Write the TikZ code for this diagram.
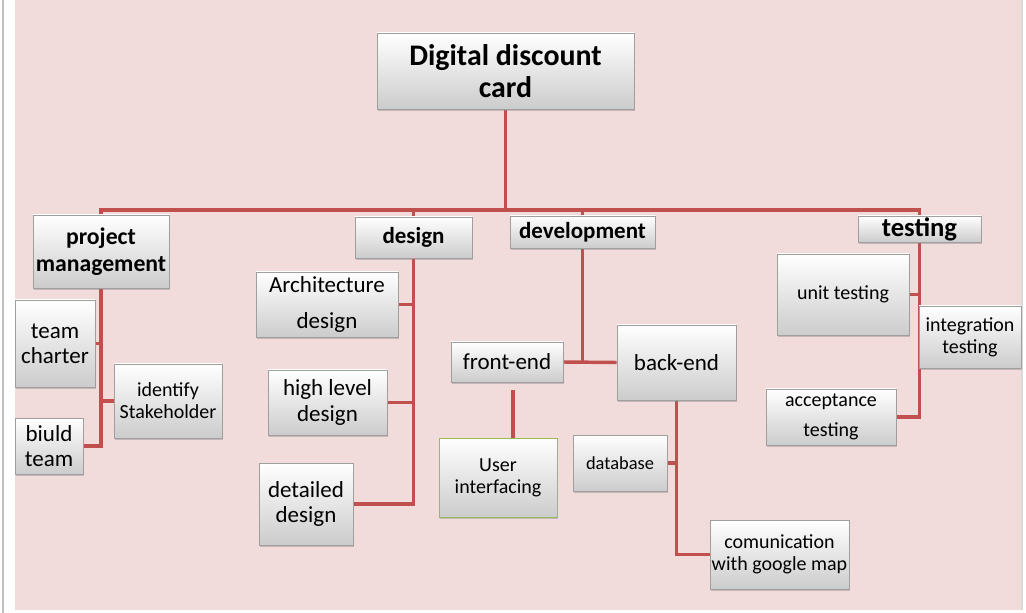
\documentclass[tikz,border=0pt]{standalone}
\usepackage{fontspec}
\setmainfont{Carlito}
\usetikzlibrary{positioning}
\usetikzlibrary{shadows}
\usetikzlibrary{backgrounds}
\definecolor{wbspink}{RGB}{242,220,219}
\definecolor{wbsline}{RGB}{192,80,77}
\definecolor{wbsgreen}{RGB}{155,187,89}
\tikzset{
  box/.style={draw=gray!75, line width=0.5pt, top color=white, bottom color=gray!40,
    align=center, inner sep=1pt,
    drop shadow={shadow xshift=1pt, shadow yshift=-1.5pt, opacity=0.4}},
  sz/.style 2 args={minimum width=#1*0.75pt, minimum height=#2*0.75pt},
  head/.style={box, font=\bfseries\fontsize{17.25}{21}\selectfont},
  big/.style={font=\fontsize{17.25}{19}\selectfont},
  small/.style={font=\fontsize{15}{16.5}\selectfont},
  link/.style={draw=wbsline, line width=2.6pt},
}
\begin{document}
\begin{tikzpicture}[line cap=rect, line join=miter, x=0.75pt, y=-0.75pt]
\useasboundingbox (0,0) rectangle (1026,613);
% top level
\node[box, sz={257}{76}, font=\bfseries\fontsize{22.4}{24.5}\selectfont] (card) at (505.5,71) {Digital discount\\card};
\node[head, sz={136}{73}, font=\bfseries\fontsize{17.8}{20.5}\selectfont] (pm) at (101,251.5) {project\\management};
\node[head, sz={117}{41}] (des) at (413.5,237.5) {design};
\node[head, sz={145}{32}] (dev) at (582.5,232) {development};
\node[head, sz={123}{26}, font=\bfseries\fontsize{20}{20}\selectfont] (test) at (919.5,229) {testing};
% project management
\node[box, big, sz={80}{87}] (tc) at (55,343.5) {team\\charter};
\node[box, small, sz={108}{74}] (is) at (168,401) {identify\\Stakeholder};
\node[box, big, sz={68}{56}] (bt) at (49,446) {biuld\\team};
% design
\node[box, big, sz={142}{65}] (arch) at (327,304.5) {Architecture\\[8pt]design};
\node[box, big, sz={119}{65}] (hl) at (327.5,402.5) {high level\\design};
\node[box, big, sz={94}{82}] (dd) at (306,504) {detailed\\design};
% development
\node[box, big, sz={112}{40}] (fe) at (507,362) {front-end};
\node[box, big, sz={119}{75}] (be) at (676.5,362.5) {back-end};
\node[box, small, sz={118}{79}, draw=wbsgreen] (ui) at (498,477.5) {User\\interfacing};
\node[box, small, sz={94}{56}, font=\fontsize{13.8}{16}\selectfont] (db) at (620,463) {database};
\node[box, small, sz={139}{69}] (gm) at (779.5,554.5) {comunication\\with google map};
% testing
\node[box, small, sz={132}{81}] (ut) at (843,294.5) {unit testing};
\node[box, small, sz={102}{62}] (it) at (970,337) {integration\\testing};
\node[box, small, sz={130}{56}] (acc) at (831,417) {acceptance\\[6pt]testing};
\begin{scope}[on background layer]
\fill[white] (0,0) rectangle (1026,613);
\fill[wbspink] (15,0) rectangle (1021,610);
\draw[gray!50, line width=0.8pt] (3,0) -- (3,613);
\draw[gray!30, line width=0.8pt] (1022,0) -- (1022,610);
\coordinate (bus) at (505.5,210);
\draw[link] (card.south) -- (bus);
\draw[link] (pm.north) -- (pm.north |- bus) -- (test.north |- bus) -- (test.north);
\draw[link] (des.north) -- (des.north |- bus);
\draw[link] (dev.north) -- (dev.north |- bus);
\draw[link] (pm.south) -- (pm.south |- bt.east) -- (bt.east);
\draw[link] (tc.east) -- (tc.east -| pm.south);
\draw[link] (is.west) -- (is.west -| pm.south);
\draw[link] (des.south) -- (des.south |- dd.east) -- (dd.east);
\draw[link] (arch.east) -- (arch.east -| des.south);
\draw[link] (hl.east) -- (hl.east -| des.south);
\draw[link] (dev.south) -- (dev.south |- fe.east);
\draw[link] (fe.east) -- (be.west);
\draw[link] ([xshift=11.25pt]ui.north) -- ++(0,-48);
\draw[link] (be.south) -- (be.south |- gm.west) -- (gm.west);
\draw[link] (db.east) -- (db.east -| be.south);
\draw[link] (test.south) -- (test.south |- acc.east) -- (acc.east);
\draw[link] (ut.east) -- (ut.east -| test.south);
\end{scope}
\end{tikzpicture}
\end{document}
